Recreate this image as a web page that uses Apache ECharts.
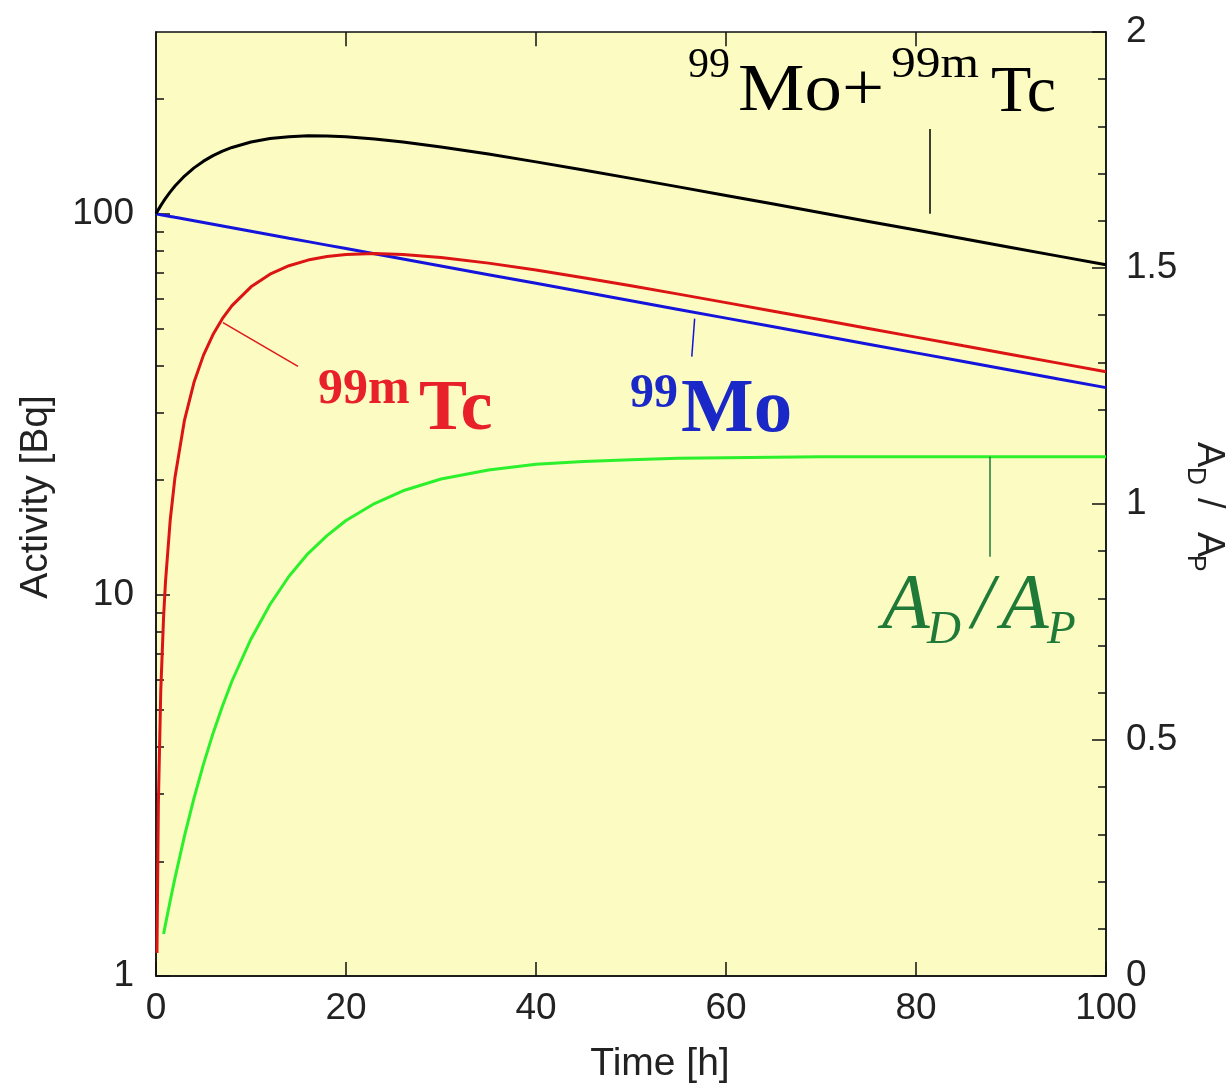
<!DOCTYPE html>
<html>
<head>
<meta charset="utf-8">
<script src="https://cdn.jsdelivr.net/npm/echarts@6.0.0/dist/echarts.min.js"></script>
<style>
  html, body { margin: 0; padding: 0; background: #fff; }
  #decayChart { width: 1232px; height: 1088px; }
</style>
</head>
<body>
<div id="decayChart"></div>
<script>
// time after Mo-99 separation [h]
const timeH = [0, 0.1, 0.25, 0.5, 0.8, 1, 1.5, 2, 3, 4, 5, 6, 7, 8, 10, 12, 14, 16, 18, 20,
  23, 26, 30, 35, 40, 45, 50, 55, 60, 65, 70, 75, 80, 85, 90, 95, 100];
// activities [Bq]
const mo99 = [100, 99.9, 99.74, 99.48, 99.16, 98.96, 98.44, 97.92, 96.9, 95.89, 94.88, 93.89, 92.91,
  91.94, 90.03, 88.16, 86.33, 84.54, 82.78, 81.06, 78.54, 76.11, 72.98, 69.24, 65.7, 62.34, 59.15,
  56.12, 53.25, 50.53, 47.94, 45.49, 43.16, 40.96, 38.86, 36.87, 34.99];
const tc99m = [null, 1.15, 2.84, 5.59, 8.77, 10.83, 15.75, 20.37, 28.76, 36.12, 42.58, 48.22, 53.14,
  57.41, 64.32, 69.42, 73.08, 75.62, 77.27, 78.22, 78.65, 78.24, 76.83, 74.24, 71.19, 67.97, 64.73,
  61.55, 58.48, 55.53, 52.71, 50.03, 47.48, 45.05, 42.75, 40.57, 38.49];
const totalAct = [100, 101.05, 102.58, 105.07, 107.93, 109.79, 114.19, 118.29, 125.66, 132.01, 137.46,
  142.11, 146.05, 149.35, 154.35, 157.58, 159.41, 160.16, 160.05, 159.28, 157.19, 154.35, 149.81,
  143.48, 136.89, 130.31, 123.88, 117.67, 111.73, 106.06, 100.65, 95.52, 90.64, 86.01, 81.61, 77.44, 73.48];
// A_D / A_P
const ratioDP = [null, null, null, null, 0.089, 0.11, 0.16, 0.208, 0.297, 0.377, 0.449, 0.514, 0.572,
  0.625, 0.714, 0.787, 0.847, 0.895, 0.933, 0.965, 1.001, 1.028, 1.053, 1.072, 1.084, 1.09, 1.094,
  1.097, 1.098, 1.099, 1.1, 1.1, 1.1, 1.1, 1.1, 1.1, 1.1];
// minor ticks of the log axis
const minorActTicks = [2, 3, 4, 5, 6, 7, 8, 9, 20, 30, 40, 50, 60, 70, 80, 90, 200];
// ticks along the top edge
const topTicks = [20, 40, 60, 80];

const ACT_MAX = 300;
const RATIO_MAX = 2;
const sans = 'Liberation Sans';
const serif = 'Liberation Serif';
const axisColor = '#111';
// plot width, used to move tick-only axes onto the opposite edge
// (inside ticks on right/top axes end up on the wrong side)
const PLOT_W = 950;
const TOP_TICK = 0.03; // top tick length in ratio-axis units (~14px)

function pairs(arr) {
  return timeH.map((t, i) => [t, arr[i]]).filter((p) => p[1] != null);
}

function leader(color, from, to) {
  return {
    silent: true,
    symbol: ['none', 'none'],
    label: { show: false },
    lineStyle: { color: color, width: 1.5, type: 'solid' },
    emphasis: { disabled: true },
    data: [[{ coord: from }, { coord: to }]],
  };
}

// text placed by its baseline
function txt(str, x, base, size, color, weight, style, sx) {
  return {
    type: 'text',
    x: x,
    y: base - size * 0.27,
    scaleX: sx || 1,
    silent: true,
    style: {
      text: str,
      fill: color,
      fontSize: size,
      fontFamily: style === 'sans' ? sans : serif,
      fontWeight: weight || 'normal',
      fontStyle: style === 'italic' ? 'italic' : 'normal',
      align: 'left',
      textAlign: 'left',
      verticalAlign: 'middle',
      textVerticalAlign: 'middle',
    },
  };
}

const tickStyle = { color: axisColor, width: 1.5 };
const labelStyle = { color: '#222', fontSize: 37, fontFamily: sans };

// green leader plus the top-edge ticks
const ratioMarks = leader('#1f7a38', [87.8, 1.1], [87.8, 0.888]);
topTicks.forEach((x) => {
  ratioMarks.data.push([
    { coord: [x, RATIO_MAX], lineStyle: tickStyle },
    { coord: [x, RATIO_MAX - TOP_TICK] },
  ]);
});

let chart = echarts.init(document.getElementById('decayChart'));
let option = {
  animation: false,
  backgroundColor: '#fff',
  grid: {
    left: 156, right: 126, top: 32, bottom: 112,
    show: true,
    backgroundColor: '#fbfbc2',
    borderColor: axisColor,
    borderWidth: 1.5,
    containLabel: false,
    outerBoundsMode: 'none',
  },
  xAxis: [
    {
      type: 'value', min: 0, max: 100, interval: 20, position: 'bottom',
      axisLine: { lineStyle: tickStyle },
      axisTick: { inside: true, length: 14, lineStyle: tickStyle },
      axisLabel: Object.assign({ margin: 14 }, labelStyle),
      splitLine: { show: false },
      name: 'Time [h]', nameLocation: 'middle', nameGap: 69, nameMoveOverlap: false,
      nameTextStyle: { color: '#222', fontSize: 39, fontFamily: sans, padding: [0, 0, 0, 58] },
    },
  ],
  yAxis: [
    {
      type: 'log', logBase: 10, min: 1, max: ACT_MAX, position: 'left',
      axisLine: { show: true, lineStyle: tickStyle },
      axisTick: { inside: true, length: 14, lineStyle: tickStyle },
      axisLabel: Object.assign({ margin: 22, showMaxLabel: false }, labelStyle),
      splitLine: { show: false },
      name: 'Activity [Bq]', nameLocation: 'middle', nameGap: 100, nameMoveOverlap: false,
      nameTextStyle: { color: '#222', fontSize: 39, fontFamily: sans, padding: [0, 0, 0, 14] },
    },
    {
      type: 'value', min: 0, max: RATIO_MAX, interval: 0.5, position: 'right',
      axisLine: { show: true, lineStyle: tickStyle },
      axisTick: { show: false },
      minorTick: { show: false },
      axisLabel: Object.assign({ margin: 20 }, labelStyle),
      splitLine: { show: false },
    },
    {
      // ticks of the ratio axis, drawn from the right edge into the plot
      type: 'value', min: 0, max: RATIO_MAX, interval: 0.5, position: 'left', offset: -PLOT_W,
      axisLine: { show: false },
      axisTick: { inside: false, length: 14, lineStyle: tickStyle },
      minorTick: { show: true, splitNumber: 5, length: 8, lineStyle: tickStyle },
      axisLabel: { show: false },
      splitLine: { show: false },
    },
    {
      // minor ticks of the log axis, drawn from the left edge into the plot
      type: 'value', min: 0, max: Math.log10(ACT_MAX), position: 'right', offset: -PLOT_W,
      axisLine: { show: false },
      axisTick: {
        inside: false, length: 8, lineStyle: tickStyle,
        customValues: minorActTicks.map((v) => Math.log10(v)),
      },
      axisLabel: { show: false },
      splitLine: { show: false },
    },
  ],
  series: [
    {
      name: 'A_D/A_P', type: 'line', xAxisIndex: 0, yAxisIndex: 1,
      data: pairs(ratioDP), showSymbol: false,
      lineStyle: { color: '#2cf02c', width: 3 },
      markLine: ratioMarks,
    },
    {
      name: '99Mo', type: 'line', xAxisIndex: 0, yAxisIndex: 0,
      data: pairs(mo99), showSymbol: false,
      lineStyle: { color: '#1414dc', width: 3 },
      markLine: leader('#1414dc', [56.7, 53.1], [56.4, 42.2]),
    },
    {
      name: '99mTc', type: 'line', xAxisIndex: 0, yAxisIndex: 0,
      data: pairs(tc99m), showSymbol: false,
      lineStyle: { color: '#dc1414', width: 3 },
      markLine: leader('#e01818', [7.05, 51.8], [14.95, 39.8]),
    },
    {
      name: '99Mo+99mTc', type: 'line', xAxisIndex: 0, yAxisIndex: 0,
      data: pairs(totalAct), showSymbol: false,
      lineStyle: { color: '#000', width: 3 },
      markLine: leader('#000', [81.4, 100], [81.4, 167]),
    },
  ],
  graphic: [
    // 99Mo+99mTc
    txt('99', 688, 77, 42, '#000'),
    txt('Mo+', 738, 111, 68, '#000', 'normal', 'serif', 1.1),
    txt('99m', 891, 77, 45, '#000', 'normal', 'serif', 1.1),
    txt('Tc', 991, 111, 66, '#000'),
    // 99mTc
    txt('99m', 318, 404, 50, '#e8202a', 'bold'),
    txt('Tc', 419, 430, 72, '#e8202a', 'bold'),
    // 99Mo
    txt('99', 630, 408, 48, '#1b28c8', 'bold'),
    txt('Mo', 681, 432, 77, '#1b28c8', 'bold'),
    // A_D / A_P
    txt('A', 882, 628, 78, '#1f7a38', 'normal', 'italic'),
    txt('D', 927, 643, 47, '#1f7a38', 'normal', 'italic'),
    txt('/', 972, 628, 78, '#1f7a38', 'normal', 'italic'),
    txt('A', 1001, 628, 78, '#1f7a38', 'normal', 'italic'),
    txt('P', 1047, 643, 47, '#1f7a38', 'normal', 'italic'),
    // right axis title, reads top to bottom
    {
      type: 'group', x: 1198, y: 442, rotation: -Math.PI / 2,
      children: [
        txt('A', 0, 0, 38, '#222', 'normal', 'sans'),
        txt('D', 25, 10, 25, '#222', 'normal', 'sans'),
        txt('/', 56, 0, 38, '#222', 'normal', 'sans'),
        txt('A', 90, 0, 38, '#222', 'normal', 'sans'),
        txt('P', 113, 10, 25, '#222', 'normal', 'sans'),
      ],
    },
  ],
};
chart.setOption(option);
</script>
</body>
</html>
